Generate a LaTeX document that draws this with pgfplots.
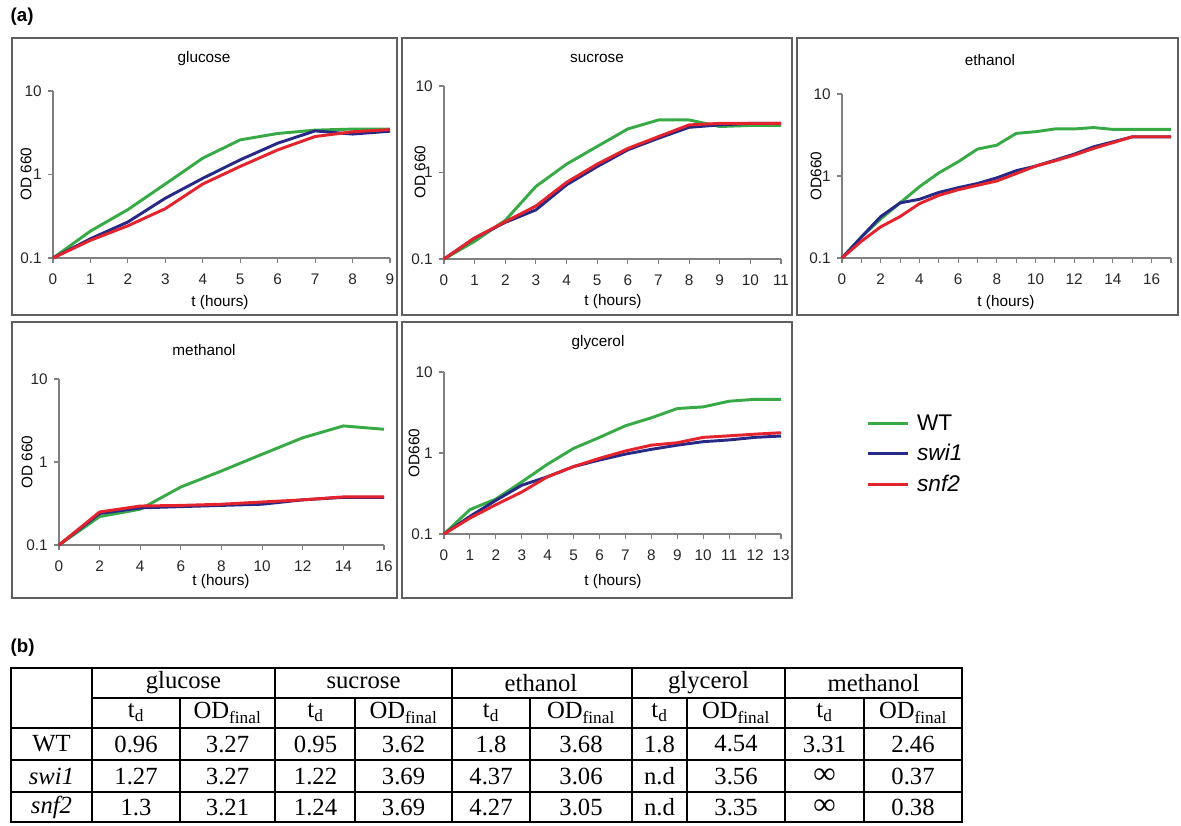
\documentclass[border=0pt]{standalone}
\usepackage{fontspec}
\setmainfont{Liberation Sans}
\newfontfamily\tabfont{Liberation Serif}
\usepackage{pgfplots}
\pgfplotsset{compat=1.18}

\definecolor{wtgreen}{RGB}{55,170,70}
\definecolor{swiblue}{RGB}{40,40,135}
\definecolor{snfred}{RGB}{228,35,45}
\definecolor{axgray}{RGB}{128,128,128}
\definecolor{framegray}{RGB}{95,95,95}

\pgfplotsset{
  every axis/.append style={
    scale only axis,
    axis x line=bottom, axis y line=left,
    axis line style={-, draw=axgray, line width=0.9pt},
    tick align=outside, major tick length=3.5pt, minor tick length=3.5pt,
    tick style={draw=axgray, line width=0.8pt},
    ticklabel style={font=\fontsize{11.5}{13}\selectfont, text=black!85},
    xticklabel style={yshift=-5pt},
    yticklabel style={xshift=-1.5pt},
    yminorticks=false,
    clip=false,
  },
  every axis plot/.append style={line width=2.2pt, line join=round, mark=none},
}
\newcommand{\labf}{\fontsize{11.5}{13}\selectfont}
\newcommand{\tabf}{\tabfont\fontsize{18.5}{20}\selectfont}
\newcommand{\infsym}{{\bfseries\fontsize{23}{20}\selectfont ∞}}

\begin{document}
\begin{tikzpicture}

% glucose
\begin{axis}[ymode=log, ymin=0.1, ymax=10, ytick={0.1,1,10}, yticklabels={0.1,1,10},
  xmin=0, xmax=9, xtick={0,...,9}, xticklabels={0,...,9},
  anchor=south west, at={(39.75pt,-193.5pt)}, width=252.75pt, height=125.25pt]
\addplot[wtgreen] coordinates {(0,0.1) (1,0.21) (2,0.38) (3,0.77) (4,1.57) (5,2.6) (6,3.1) (7,3.4) (8,3.5) (9,3.5)};
\addplot[swiblue] coordinates {(0,0.1) (1,0.17) (2,0.27) (3,0.52) (4,0.9) (5,1.5) (6,2.37) (7,3.33) (8,3.05) (9,3.3)};
\addplot[snfred] coordinates {(0,0.1) (1,0.163) (2,0.243) (3,0.39) (4,0.77) (5,1.25) (6,1.97) (7,2.85) (8,3.25) (9,3.45)};
\end{axis}

% sucrose
\begin{axis}[ymode=log, ymin=0.1, ymax=10, ytick={0.1,1,10}, yticklabels={0.1,1,10},
  xmin=0, xmax=11, xtick={0,...,11}, xticklabels={0,...,11},
  anchor=south west, at={(333pt,-194.25pt)}, width=252.75pt, height=129.75pt]
\addplot[wtgreen] coordinates {(0,0.1) (1,0.16) (2,0.28) (3,0.69) (4,1.25) (5,2.0) (6,3.19) (7,4.05) (8,4.05) (9,3.4) (10,3.5) (11,3.5)};
\addplot[swiblue] coordinates {(0,0.1) (1,0.175) (2,0.265) (3,0.37) (4,0.72) (5,1.17) (6,1.83) (7,2.49) (8,3.33) (9,3.55) (10,3.7) (11,3.7)};
\addplot[snfred] coordinates {(0,0.1) (1,0.175) (2,0.27) (3,0.41) (4,0.77) (5,1.25) (6,1.9) (7,2.6) (8,3.55) (9,3.7) (10,3.7) (11,3.7)};
\end{axis}

% ethanol
\begin{axis}[ymode=log, ymin=0.1, ymax=10, ytick={0.1,1,10}, yticklabels={0.1,1,10},
  xmin=0, xmax=17, xtick={0,2,...,16}, xticklabels={0,2,...,16}, minor xtick={1,3,...,17},
  anchor=south west, at={(631.5pt,-193.5pt)}, width=246.75pt, height=123pt]
\addplot[wtgreen] coordinates {(0,0.1) (1,0.18) (2,0.3) (3,0.47) (4,0.74) (5,1.09) (6,1.49) (7,2.13) (8,2.38) (9,3.31) (10,3.47) (11,3.75) (12,3.75) (13,3.9) (14,3.7) (15,3.7) (16,3.7) (17,3.7)};
\addplot[swiblue] coordinates {(0,0.1) (1,0.18) (2,0.32) (3,0.47) (4,0.52) (5,0.63) (6,0.72) (7,0.81) (8,0.95) (9,1.16) (10,1.32) (11,1.56) (12,1.85) (13,2.27) (14,2.61) (15,3.0) (16,3.0) (17,3.0)};
\addplot[snfred] coordinates {(0,0.1) (1,0.16) (2,0.24) (3,0.32) (4,0.46) (5,0.58) (6,0.68) (7,0.77) (8,0.87) (9,1.07) (10,1.32) (11,1.53) (12,1.8) (13,2.17) (14,2.55) (15,3.01) (16,3.01) (17,3.01)};
\end{axis}

% methanol
\begin{axis}[ymode=log, ymin=0.1, ymax=10, ytick={0.1,1,10}, yticklabels={0.1,1,10},
  xmin=0, xmax=16, xtick={0,2,...,16}, xticklabels={0,2,...,16},
  anchor=south west, at={(44.25pt,-408.75pt)}, width=243.75pt, height=124.5pt]
\addplot[wtgreen] coordinates {(0,0.1) (2,0.22) (4,0.27) (6,0.5) (8,0.78) (10,1.24) (12,1.96) (14,2.72) (16,2.48)};
\addplot[swiblue] coordinates {(0,0.1) (2,0.24) (4,0.28) (6,0.29) (8,0.3) (10,0.31) (12,0.35) (14,0.375) (16,0.375)};
\addplot[snfred] coordinates {(0,0.1) (2,0.25) (4,0.295) (6,0.3) (8,0.31) (10,0.33) (12,0.35) (14,0.38) (16,0.38)};
\end{axis}

% glycerol
\begin{axis}[ymode=log, ymin=0.1, ymax=10, ytick={0.1,1,10}, yticklabels={0.1,1,10},
  xmin=0, xmax=13, xtick={0,...,13}, xticklabels={0,...,13},
  anchor=south west, at={(333pt,-400.5pt)}, width=252.75pt, height=121.5pt,
  legend style={draw=none, fill=none, at={(1.24,0.77)}, anchor=north west,
    font=\fontsize{17}{20}\selectfont, legend cell align=left, row sep=5pt},
  legend image code/.code={\draw[#1, line width=2.2pt] (0pt,0pt) -- (30pt,0pt); \path (34pt,0pt);}]
\addplot[wtgreen] coordinates {(0,0.1) (1,0.2) (2,0.27) (3,0.44) (4,0.73) (5,1.14) (6,1.56) (7,2.17) (8,2.72) (9,3.54) (10,3.71) (11,4.36) (12,4.6) (13,4.6)};
\addplot[swiblue] coordinates {(0,0.1) (1,0.165) (2,0.26) (3,0.4) (4,0.51) (5,0.68) (6,0.82) (7,0.97) (8,1.11) (9,1.25) (10,1.38) (11,1.45) (12,1.56) (13,1.62)};
\addplot[snfred] coordinates {(0,0.1) (1,0.157) (2,0.23) (3,0.33) (4,0.51) (5,0.68) (6,0.86) (7,1.06) (8,1.25) (9,1.34) (10,1.56) (11,1.63) (12,1.71) (13,1.78)};
\legend{WT, \textit{swi1}, \textit{snf2}}
\end{axis}

\begin{scope}[x=0.75pt, y=-0.75pt]
\useasboundingbox (0,0) rectangle (1181,825);
% panel frames
\begin{scope}[draw=framegray, line width=1.1pt]
\draw (12,38) rectangle (397,315);
\draw (402,38) rectangle (792,315);
\draw (797,38) rectangle (1178,315);
\draw (12,322) rectangle (397,598);
\draw (402,322) rectangle (792,598);
\end{scope}
% titles and labels
\node[font=\labf] at (204,59) {glucose};
\node[font=\labf] at (597,58) {sucrose};
\node[font=\labf] at (990,60) {ethanol};
\node[font=\labf] at (204,350) {methanol};
\node[font=\labf] at (598,343) {glycerol};
\node[font=\labf] at (220,303) {t (hours)};
\node[font=\labf] at (613,302) {t (hours)};
\node[font=\labf] at (1006,303) {t (hours)};
\node[font=\labf] at (221,582) {t (hours)};
\node[font=\labf] at (613,582) {t (hours)};
\node[font=\labf, rotate=90] at (26,174) {OD 660};
\node[font=\labf, rotate=90] at (420,172) {OD 660};
\node[font=\labf, rotate=90] at (816,176) {OD660};
\node[font=\labf, rotate=90] at (27,462) {OD 660};
\node[font=\labf, rotate=90] at (414,453) {OD660};
\node[font=\fontsize{14}{16}\selectfont\bfseries, anchor=west] at (6,17) {(a)};
\node[font=\fontsize{14}{16}\selectfont\bfseries, anchor=west] at (6,648) {(b)};

% table (b)
\begin{scope}[line width=1.2pt]
\draw (11,668) rectangle (962,822);
\draw (92,698) -- (962,698);
\foreach \yy in {728,760,792} \draw (11,\yy) -- (962,\yy);
\foreach \xx in {92,275,452,632,785} \draw (\xx,668) -- (\xx,822);
\foreach \xx in {180,355,530,687,864} \draw (\xx,698) -- (\xx,822);
\end{scope}
\foreach \cx/\txt in {183.5/glucose, 363.5/sucrose, 541/ethanol, 708.5/glycerol, 873.5/methanol}
  \node[font=\tabf] at (\cx,683) {\txt};
\foreach \cx in {136,315.5,491,659.5,824.5}
  \node[font=\tabf] at (\cx,713) {t\textsubscript{d}};
\foreach \cx in {227.5,403.5,581,736,913}
  \node[font=\tabf] at (\cx,713) {OD\textsubscript{final}};
\node[font=\tabf] at (51.5,744) {WT};
\node[font=\tabf] at (51.5,776) {\textit{swi1}};
\node[font=\tabf] at (51.5,807) {\textit{snf2}};
\foreach \cx/\txt in {136/0.96, 227.5/3.27, 315.5/0.95, 403.5/3.62, 491/1.8, 581/3.68, 659.5/1.8, 736/4.54, 824.5/3.31, 913/2.46}
  \node[font=\tabf] at (\cx,744) {\txt};
\foreach \cx/\txt in {136/1.27, 227.5/3.27, 315.5/1.22, 403.5/3.69, 491/4.37, 581/3.06, 659.5/n.d, 736/3.56, 824.5/\infsym, 913/0.37}
  \node[font=\tabf] at (\cx,776) {\txt};
\foreach \cx/\txt in {136/1.3, 227.5/3.21, 315.5/1.24, 403.5/3.69, 491/4.27, 581/3.05, 659.5/n.d, 736/3.35, 824.5/\infsym, 913/0.38}
  \node[font=\tabf] at (\cx,807) {\txt};
\end{scope}
\end{tikzpicture}
\end{document}
